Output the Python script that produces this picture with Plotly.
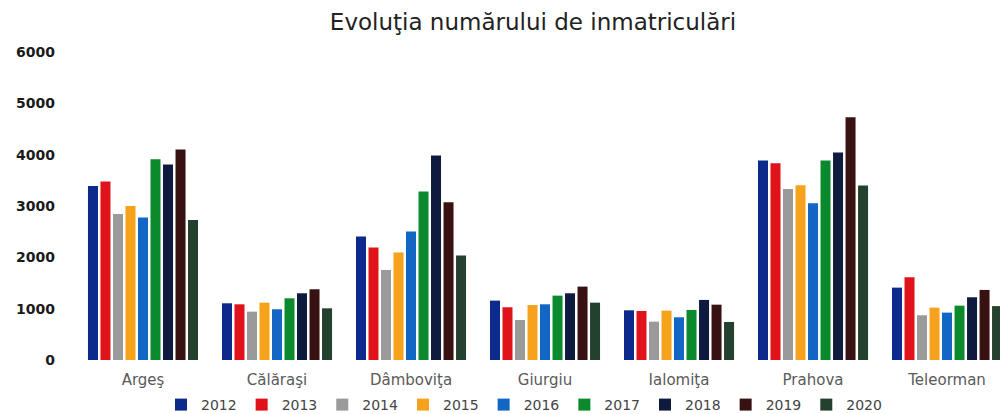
import plotly.graph_objects as go

# Counties (x categories)
counties = ["Argeş", "Călăraşi", "Dâmboviţa", "Giurgiu", "Ialomiţa", "Prahova", "Teleorman"]
years = ["2012", "2013", "2014", "2015", "2016", "2017", "2018", "2019", "2020"]

# Registrations per county, one list per year
v2012 = [3390, 1105, 2404, 1157, 968, 3885, 1410]
v2013 = [3476, 1085, 2190, 1027, 955, 3834, 1612]
v2014 = [2846, 942, 1754, 780, 747, 3333, 871]
v2015 = [3002, 1117, 2092, 1072, 962, 3405, 1020]
v2016 = [2775, 988, 2502, 1085, 832, 3054, 923]
v2017 = [3912, 1202, 3281, 1254, 975, 3885, 1059]
v2018 = [3808, 1300, 3983, 1300, 1170, 4041, 1222]
v2019 = [4100, 1378, 3073, 1430, 1078, 4731, 1365]
v2020 = [2729, 1007, 2034, 1117, 741, 3398, 1050]

series = [v2012, v2013, v2014, v2015, v2016, v2017, v2018, v2019, v2020]
colors = ["#0b2a8c", "#e0121a", "#9a9a9a", "#f7a21d", "#1266c4",
          "#0a8a2c", "#0e1a3e", "#381212", "#24402f"]

# the page body adds an 8px offset, so the figure is 8px smaller
W, H = 1000, 406

fig = go.Figure()

for year, vals, col in zip(years, series, colors):
    fig.add_trace(go.Bar(
        x=counties,
        y=vals,
        name=year,
        marker=dict(color=col, line=dict(width=0)),
    ))

fig.update_layout(
    width=W,
    height=H,
    barmode="group",
    bargap=0.16,
    bargroupgap=0.2,
    plot_bgcolor="white",
    paper_bgcolor="white",
    margin=dict(l=68, r=0, t=44, b=54, autoexpand=False),
    title=dict(
        text="Evoluţia numărului de inmatriculări",
        xref="container", x=0.525, xanchor="center",
        yref="container", y=1 - 14 / H, yanchor="middle",
        font=dict(family="DejaVu Sans", size=23, color="#222222"),
    ),
    font=dict(family="DejaVu Sans", color="#333333"),
    legend=dict(
        orientation="h",
        xref="container", x=0.516, xanchor="center",
        yref="container", y=(H - 397) / H, yanchor="middle",
        font=dict(family="DejaVu Sans", size=14, color="#444444"),
        itemwidth=30,
        traceorder="normal",
    ),
    showlegend=True,
)

fig.update_xaxes(
    range=[-0.5, 6.455],
    showgrid=False,
    showline=False,
    ticks="",
    automargin=False,
    ticklabelstandoff=9,
    tickfont=dict(family="DejaVu Sans", size=15, color="#5a5a5a"),
)
fig.update_yaxes(
    range=[0, 6000],
    dtick=1000,
    showgrid=False,
    zeroline=False,
    showline=False,
    ticks="",
    automargin=False,
    ticklabelstandoff=20,
    tickfont=dict(family="DejaVu Sans", size=14, color="#1a1a1a", weight="bold"),
)

fig.write_html("out.html")
